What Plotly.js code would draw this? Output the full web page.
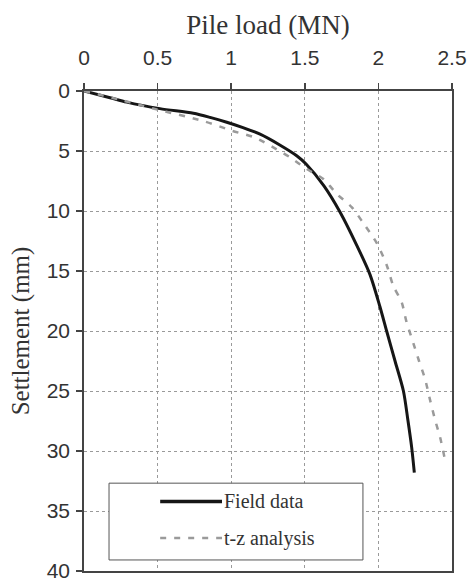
<!DOCTYPE html>
<html><head><meta charset="utf-8">
<script src="https://cdn.plot.ly/plotly-3.0.1.min.js"></script>
<style>html,body{margin:0;padding:0;background:#fff}#chart{width:469px;height:582px}</style>
</head><body><div id="chart"></div>
<script>
const fieldLoad = [0, 0.177, 0.29, 0.516, 0.743, 0.856, 0.97, 1.08, 1.196, 1.33, 1.445, 1.51, 1.63, 1.74, 1.853, 1.943, 2.01, 2.056, 2.113, 2.17, 2.2, 2.226, 2.244];
const fieldSettle = [0, 0.56, 0.93, 1.47, 1.86, 2.2, 2.6, 3.05, 3.6, 4.5, 5.4, 6.1, 7.9, 10.1, 12.86, 15.3, 17.96, 20, 22.5, 25, 27.4, 29.7, 31.8];
const tzLoad = [0, 0.25, 0.5, 0.81, 1.01, 1.16, 1.286, 1.4, 1.513, 1.626, 1.717, 1.82, 1.9, 1.99, 2.056, 2.1, 2.158, 2.19, 2.237, 2.276, 2.317, 2.35, 2.385, 2.42, 2.45];
const tzSettle = [0, 0.75, 1.55, 2.5, 3.33, 3.88, 4.7, 5.53, 6.5, 7.33, 8.57, 9.7, 11.05, 12.7, 14.5, 16.2, 17.6, 19.2, 21, 22.5, 24, 25.7, 27.4, 28.9, 30.6];
const xTicks = [0, 0.5, 1, 1.5, 2, 2.5];
const xTickText = ['0', '0.5', '1', '1.5', '2', '2.5'];
const yTicks = [0, 5, 10, 15, 20, 25, 30, 35, 40];
const legendNames = ['Field data', 't-z analysis'];

const serif = 'Liberation Serif, Times New Roman, serif';
const sans = 'Liberation Sans, Arial, sans-serif';

const traces = [
  {x: fieldLoad, y: fieldSettle, mode: 'lines', name: legendNames[0],
   line: {color: '#161616', width: 3, shape: 'spline', smoothing: 0.8}},
  {x: tzLoad, y: tzSettle, mode: 'lines', name: legendNames[1],
   line: {color: '#9a9a9a', width: 2.5, dash: '6px,8px', shape: 'spline', smoothing: 0.8}}
];

const layout = {
  width: 469, height: 582,
  margin: {l: 84, r: 17, t: 91, b: 11},
  paper_bgcolor: '#fff', plot_bgcolor: '#fff',
  showlegend: false,
  xaxis: {
    side: 'top', range: [0, 2.5], tickvals: xTicks, ticktext: xTickText,
    showgrid: true, gridcolor: '#9a9a9a', griddash: 'dot', gridwidth: 1,
    showline: true, linecolor: '#444', linewidth: 1.8, mirror: true,
    ticks: 'outside', ticklen: 6, tickcolor: '#444', tickwidth: 1.5,
    tickfont: {family: sans, size: 21, color: '#333'},
    ticklabelstandoff: 10,
    ticklabeloverflow: 'allow',
    title: {text: 'Pile load (MN)', font: {family: serif, size: 27, color: '#333'}, standoff: 3},
    zeroline: false
  },
  yaxis: {
    range: [40, 0], tickvals: yTicks,
    showgrid: true, gridcolor: '#9a9a9a', griddash: 'dot', gridwidth: 1,
    showline: true, linecolor: '#444', linewidth: 1.8, mirror: true,
    ticks: 'outside', ticklen: 6, tickcolor: '#444', tickwidth: 1.5,
    tickfont: {family: sans, size: 21, color: '#333'},
    ticklabelstandoff: 2,
    ticklabeloverflow: 'allow',
    title: {text: 'Settlement (mm)', font: {family: serif, size: 25, color: '#333'}, standoff: 10},
    zeroline: false
  },
  shapes: [
    {type: 'rect', xref: 'paper', yref: 'paper', x0: 0.068, x1: 0.758, y0: 0.023, y1: 0.183,
     line: {color: '#555', width: 1}, fillcolor: '#fff', layer: 'above'},
    {type: 'line', xref: 'paper', yref: 'paper', x0: 0.207, x1: 0.375, y0: 0.145, y1: 0.145,
     line: {color: '#161616', width: 3.5}},
    {type: 'line', xref: 'paper', yref: 'paper', x0: 0.207, x1: 0.375, y0: 0.0685, y1: 0.0685,
     line: {color: '#9a9a9a', width: 2.5, dash: '6px,8px'}}
  ],
  annotations: [
    {xref: 'paper', yref: 'paper', x: 0.375, y: 0.145, xanchor: 'left', yanchor: 'middle',
     text: legendNames[0], showarrow: false, font: {family: serif, size: 20, color: '#333'}},
    {xref: 'paper', yref: 'paper', x: 0.375, y: 0.0685, xanchor: 'left', yanchor: 'middle',
     text: legendNames[1], showarrow: false, font: {family: serif, size: 20, color: '#333'}}
  ]
};

Plotly.newPlot('chart', traces, layout, {displayModeBar: false, staticPlot: true});
</script></body></html>
